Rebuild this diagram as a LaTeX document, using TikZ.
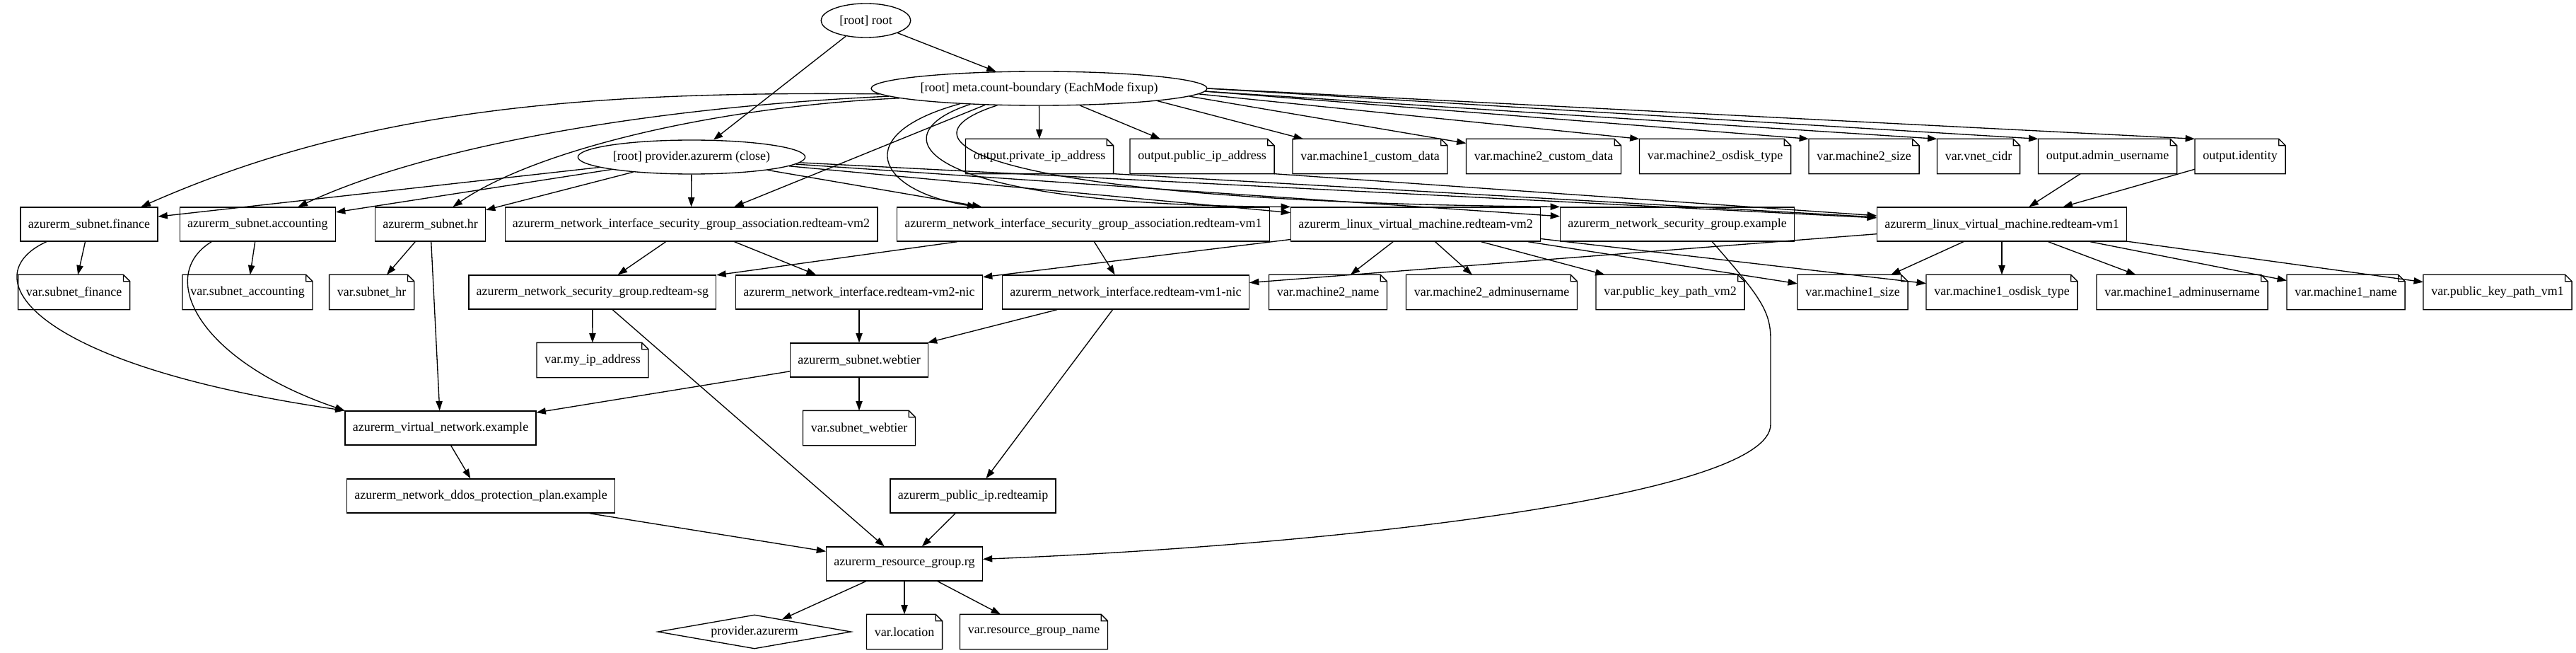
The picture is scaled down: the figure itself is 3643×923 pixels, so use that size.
\documentclass[tikz,border=0pt]{standalone}
\usepackage{fontspec}
\setmainfont{Liberation Serif}
\usepackage{tikz}
\usetikzlibrary{arrows.meta,shapes.geometric,calc}

\begin{document}
\begin{tikzpicture}[
  x=0.75pt, y=-0.75pt,
  base/.style={font=\fontsize{13.5}{16}\selectfont, line width=1pt,
    inner ysep=0pt, minimum height=36pt},
  res/.style={base, draw, rectangle, inner xsep=8pt},
  varnote/.style={base, rectangle, inner xsep=8pt,
    append after command={\pgfextra{\draw[line width=1pt]
      (\tikzlastnode.south west) -- (\tikzlastnode.north west)
      -- ([xshift=-7pt]\tikzlastnode.north east)
      -- ([yshift=-7pt]\tikzlastnode.north east)
      -- (\tikzlastnode.south east) -- cycle
      ([xshift=-7pt]\tikzlastnode.north east) |- ([yshift=-7pt]\tikzlastnode.north east);}}},
  graphroot/.style={base, draw, ellipse, inner sep=0pt},
  prov/.style={base, draw, diamond, inner sep=0pt, minimum width=205pt, aspect=5.7},
  dep/.style={-{Triangle[length=10pt,width=7pt]}, line width=1pt}
]
\useasboundingbox (0,0) rectangle (3643,923);

% Terraform dependency graph, one row per rank.
\node[graphroot, minimum width=95pt] (root) at (1224.5,29) {[root] root};
\node[graphroot, minimum width=353pt] (meta) at (1469.5,125) {[root] meta.count-boundary (EachMode fixup)};
\node[graphroot, minimum width=241pt] (pclose) at (978,222) {[root] provider.azurerm (close)};

\node[varnote] (outpriv) at (1470,221) {output.private\_ip\_address};
\node[varnote] (outpub) at (1700,221) {output.public\_ip\_address};
\node[varnote] (mcustom1) at (1937.5,221) {var.machine1\_custom\_data};
\node[varnote] (mcustom2) at (2183,221) {var.machine2\_custom\_data};
\node[varnote] (m2osdisk) at (2425.5,221) {var.machine2\_osdisk\_type};
\node[varnote] (m2size) at (2636,221) {var.machine2\_size};
\node[varnote] (vnetcidr) at (2798,221) {var.vnet\_cidr};
\node[varnote] (outadmin) at (2980.5,221) {output.admin\_username};
\node[varnote] (outident) at (3168,221) {output.identity};

\node[res] (subfin) at (126,317) {azurerm\_subnet.finance};
\node[res] (subacc) at (364.4,317) {azurerm\_subnet.accounting};
\node[res] (subhr) at (608.5,317) {azurerm\_subnet.hr};
\node[res] (nsgavm2) at (977.5,317) {azurerm\_network\_interface\_security\_group\_association.redteam-vm2};
\node[res] (nsgavm1) at (1532,317) {azurerm\_network\_interface\_security\_group\_association.redteam-vm1};
\node[res] (vm2) at (2002,317) {azurerm\_linux\_virtual\_machine.redteam-vm2};
\node[res] (nsgex) at (2372,317) {azurerm\_network\_security\_group.example};
\node[res] (vm1) at (2831,317) {azurerm\_linux\_virtual\_machine.redteam-vm1};

\node[varnote] (vsubfin) at (104.7,413) {var.subnet\_finance};
\node[varnote] (vsubacc) at (350,413) {var.subnet\_accounting};
\node[varnote] (vsubhr) at (525.7,413) {var.subnet\_hr};
\node[res] (nsgsg) at (837.8,413) {azurerm\_network\_security\_group.redteam-sg};
\node[res] (nicvm2) at (1215,413) {azurerm\_network\_interface.redteam-vm2-nic};
\node[res] (nicvm1) at (1592,413) {azurerm\_network\_interface.redteam-vm1-nic};
\node[varnote] (m2name) at (1878,413) {var.machine2\_name};
\node[varnote] (m2admin) at (2109.5,413) {var.machine2\_adminusername};
\node[varnote] (pkvm2) at (2362,413) {var.public\_key\_path\_vm2};
\node[varnote] (m1size) at (2620,413) {var.machine1\_size};
\node[varnote] (m1osdisk) at (2831,413) {var.machine1\_osdisk\_type};
\node[varnote] (m1admin) at (3086,413) {var.machine1\_adminusername};
\node[varnote] (m1name) at (3317.5,413) {var.machine1\_name};
\node[varnote] (pkvm1) at (3532,413) {var.public\_key\_path\_vm1};

\node[varnote] (myip) at (838,509) {var.my\_ip\_address};
\node[res] (webtier) at (1215,509) {azurerm\_subnet.webtier};
\node[res] (vnet) at (623,605) {azurerm\_virtual\_network.example};
\node[varnote] (vsubweb) at (1215,605) {var.subnet\_webtier};
\node[res] (ddos) at (680,701) {azurerm\_network\_ddos\_protection\_plan.example};
\node[res] (pubip) at (1376,701) {azurerm\_public\_ip.redteamip};
\node[res] (rg) at (1279,797) {azurerm\_resource\_group.rg};
\node[prov] (provider) at (1067,893) {provider.azurerm};
\node[varnote] (location) at (1279,893) {var.location};
\node[varnote] (rgname) at (1462,893) {var.resource\_group\_name};

\draw[dep] (root) -- (pclose);
\draw[dep] (root) -- (meta);

% meta.count-boundary fans out to every leaf of the plan.
\draw[dep] (meta.182) .. controls (800,128) and (500,160) .. ([xshift=-18pt]subfin.north east);
\draw[dep] (meta.183) .. controls (950,150) and (620,200) .. ([xshift=-40pt]subacc.north east);
\draw[dep] (meta.184.5) .. controls (1020,150) and (760,210) .. ([xshift=24pt]subhr.north);
\draw[dep] (meta.197) -- (nsgavm2);
\draw[dep] (meta.191) .. controls (1200,190) and (1240,270) .. ([xshift=85pt]nsgavm1.north west);
\draw[dep] (meta.193) .. controls (1240,190) and (1290,290) .. (vm2.north west);
\draw[dep] (meta.202) .. controls (1250,200) and (1400,285) .. (nsgex.north west);
\draw[dep] (meta) -- (outpriv);
\draw[dep] (meta) -- (outpub);
\draw[dep] (meta.-6) -- (mcustom1);
\draw[dep] (meta.-3) -- (mcustom2);
\draw[dep] (meta.-2) -- (m2osdisk.north west);
\draw[dep] (meta.-1) -- (m2size.north west);
\draw[dep] (meta.-1) -- (vnetcidr.north west);
\draw[dep] (meta.east) -- (outadmin.north west);
\draw[dep] (meta.east) -- (outident.north west);

\draw[dep] (pclose) -- (subfin);
\draw[dep] (pclose) -- (subacc);
\draw[dep] (pclose) -- (subhr);
\draw[dep] (pclose) -- (nsgavm2);
\draw[dep] (pclose) -- (nsgavm1);
\draw[dep] (pclose) -- (vm2);
\draw[dep] (pclose) -- (nsgex);
\draw[dep] (pclose) -- (vm1);

\draw[dep] (outpriv.south east) -- (vm1);
\draw[dep] (outpub.south east) -- (vm1);
\draw[dep] (outadmin) -- (vm1);
\draw[dep] (outident) -- (vm1);

\draw[dep] (subfin) -- (vsubfin);
\draw[dep] ([xshift=28pt]subfin.south west) .. controls (-40,390) and (40,515) .. (vnet.north west);
\draw[dep] (subacc) -- (vsubacc);
\draw[dep] ([xshift=34pt]subacc.south west) .. controls (220,390) and (280,510) .. (vnet.north west);
\draw[dep] (subhr) -- (vsubhr);
\draw[dep] (subhr) -- (vnet);
\draw[dep] (nsgavm2) -- (nsgsg);
\draw[dep] (nsgavm2) -- (nicvm2);
\draw[dep] (nsgavm1) -- (nsgsg);
\draw[dep] (nsgavm1) -- (nicvm1);

\draw[dep] (vm2) -- (nicvm2);
\draw[dep] (vm2) -- (m2name);
\draw[dep] (vm2) -- (m2admin);
\draw[dep] (vm2) -- (pkvm2);
\draw[dep] (vm2) -- (m1size);
\draw[dep] (vm2) -- (m1osdisk);
\draw[dep] (vm1) -- (nicvm1);
\draw[dep] (vm1) -- (m1size);
\draw[dep] (vm1) -- (m1osdisk);
\draw[dep] (vm1) -- (m1admin);
\draw[dep] (vm1) -- (m1name);
\draw[dep] (vm1) -- (pkvm1);

% the example security group runs down the right side into the resource group
\draw[dep] ([xshift=37pt]nsgex.south) .. controls (2490,420) and (2504,440) .. (2504,480)
  -- (2504,600) .. controls (2504,700) and (1900,770) .. ([yshift=5pt]rg.east);

\draw[dep] (nsgsg) -- (myip);
\draw[dep] (nsgsg) -- (rg);
\draw[dep] (nicvm2) -- (webtier);
\draw[dep] (nicvm1) -- (webtier);
\draw[dep] (nicvm1) -- (pubip);
\draw[dep] (webtier) -- (vsubweb);
\draw[dep] (webtier) -- (vnet);
\draw[dep] (vnet) -- (ddos);
\draw[dep] (ddos) -- (rg);
\draw[dep] (pubip) -- (rg);
\draw[dep] (rg) -- (provider);
\draw[dep] (rg) -- (location);
\draw[dep] (rg) -- (rgname);

\end{tikzpicture}
\end{document}
